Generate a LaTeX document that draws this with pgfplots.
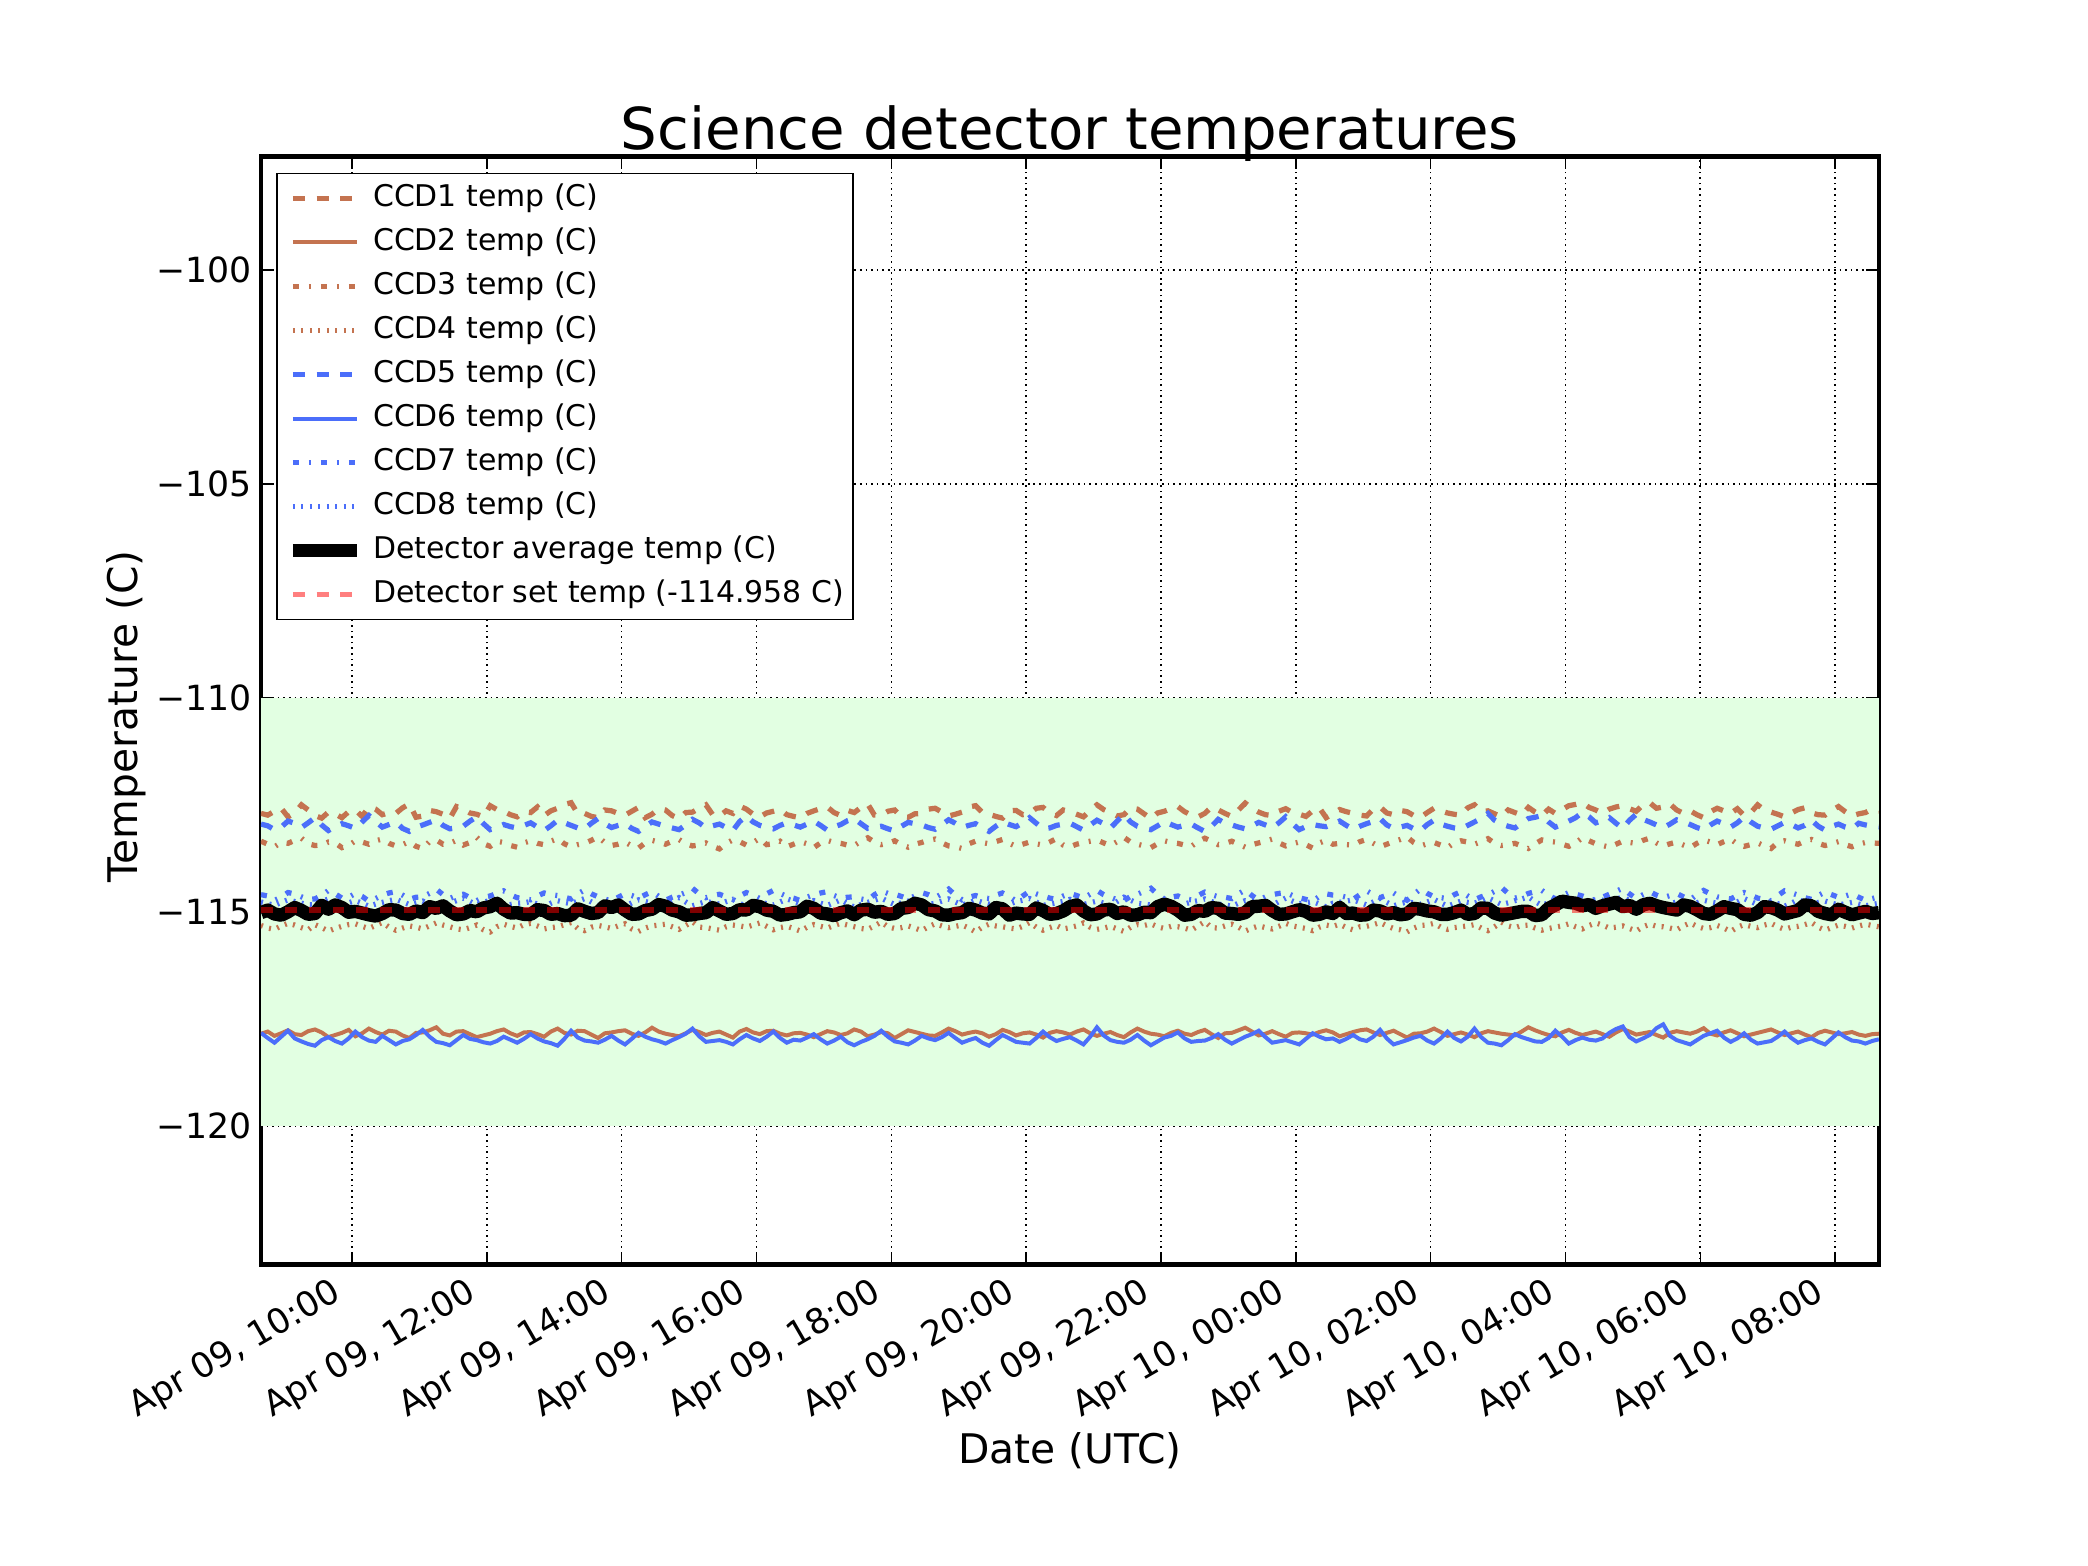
\documentclass[border=0pt]{standalone}
\usepackage{fontspec}
\setmainfont{DejaVu Sans}
\usepackage{pgfplots}
\usepackage{pgfplotstable}
\pgfplotsset{compat=1.18}
\definecolor{ccdbrown}{RGB}{196,115,80}
\definecolor{ccdblue}{RGB}{75,110,250}
\definecolor{bandgreen}{RGB}{226,255,226}
\pgfplotstableread{
x c1 c2 c3 c4 c5 c6 c7 c8 av
8.65 -112.70 -117.85 -113.35 -115.32 -112.95 -117.83 -114.60 -114.77 -115.02
8.75 -112.74 -117.80 -113.42 -115.38 -112.99 -117.95 -114.63 -114.81 -114.96
8.85 -112.65 -117.90 -113.48 -115.41 -113.08 -118.06 -114.73 -114.85 -115.05
8.95 -112.58 -117.84 -113.38 -115.33 -113.02 -117.92 -114.66 -114.78 -115.08
9.05 -112.78 -117.77 -113.40 -115.27 -112.88 -117.78 -114.55 -114.72 -115.00
9.15 -112.69 -117.86 -113.33 -115.31 -112.93 -117.96 -114.58 -114.76 -114.90
9.25 -112.50 -117.88 -113.28 -115.37 -113.03 -118.03 -114.65 -114.80 -114.97
9.35 -112.62 -117.79 -113.41 -115.42 -112.92 -118.09 -114.71 -114.83 -115.06
9.45 -112.75 -117.75 -113.45 -115.30 -112.80 -118.13 -114.70 -114.84 -115.04
9.55 -112.81 -117.82 -113.44 -115.37 -112.97 -118.00 -114.62 -114.76 -114.85
9.65 -112.67 -117.93 -113.37 -115.45 -113.10 -117.93 -114.50 -114.70 -114.94
9.75 -112.71 -117.88 -113.39 -115.39 -113.01 -118.02 -114.58 -114.77 -114.84
9.85 -112.80 -117.83 -113.50 -115.34 -112.94 -118.08 -114.68 -114.82 -114.90
9.95 -112.66 -117.76 -113.45 -115.30 -112.99 -117.96 -114.66 -114.79 -115.01
10.05 -112.62 -117.91 -113.34 -115.28 -113.05 -117.80 -114.57 -114.74 -114.99
10.15 -112.77 -117.84 -113.37 -115.34 -112.90 -117.93 -114.64 -114.80 -115.03
10.25 -112.55 -117.73 -113.42 -115.39 -112.75 -118.01 -114.75 -114.87 -115.07
10.35 -112.60 -117.81 -113.34 -115.32 -112.89 -118.04 -114.69 -114.82 -115.10
10.45 -112.73 -117.87 -113.30 -115.25 -113.02 -117.90 -114.61 -114.78 -115.04
10.55 -112.68 -117.78 -113.40 -115.36 -112.96 -118.00 -114.56 -114.74 -114.95
10.65 -112.70 -117.80 -113.46 -115.43 -112.90 -118.10 -114.53 -114.71 -114.96
10.75 -112.57 -117.89 -113.43 -115.38 -113.05 -118.02 -114.61 -114.77 -115.04
10.85 -112.48 -117.95 -113.36 -115.33 -113.12 -117.98 -114.71 -114.83 -115.06
10.95 -112.79 -117.83 -113.47 -115.36 -113.02 -117.88 -114.66 -114.79 -114.98
11.05 -112.76 -117.82 -113.52 -115.40 -112.97 -117.76 -114.65 -114.75 -115.02
11.15 -112.63 -117.77 -113.36 -115.33 -112.91 -117.92 -114.57 -114.82 -114.88
11.25 -112.66 -117.70 -113.32 -115.26 -112.85 -118.04 -114.47 -114.88 -114.92
11.35 -112.72 -117.85 -113.42 -115.31 -112.98 -118.07 -114.60 -114.83 -114.86
11.45 -112.82 -117.89 -113.40 -115.35 -113.06 -118.12 -114.69 -114.79 -114.98
11.55 -112.54 -117.80 -113.33 -115.40 -113.04 -118.00 -114.62 -114.74 -115.07
11.65 -112.60 -117.79 -113.44 -115.42 -113.00 -117.88 -114.59 -114.68 -115.05
11.75 -112.69 -117.86 -113.38 -115.37 -112.88 -117.97 -114.67 -114.76 -114.97
11.85 -112.72 -117.93 -113.26 -115.31 -112.78 -118.00 -114.74 -114.84 -115.00
11.95 -112.78 -117.89 -113.41 -115.42 -112.94 -118.05 -114.66 -114.78 -114.91
12.05 -112.52 -117.85 -113.47 -115.47 -113.08 -118.08 -114.63 -114.73 -114.88
12.15 -112.61 -117.79 -113.35 -115.35 -113.03 -118.02 -114.57 -114.80 -114.80
12.25 -112.65 -117.75 -113.38 -115.29 -112.96 -117.92 -114.51 -114.86 -114.94
12.35 -112.73 -117.84 -113.45 -115.34 -113.01 -117.99 -114.60 -114.83 -115.03
12.45 -112.78 -117.90 -113.49 -115.38 -113.04 -118.06 -114.67 -114.80 -115.02
12.55 -112.66 -117.82 -113.39 -115.30 -112.98 -117.97 -114.69 -114.79 -115.06
12.65 -112.68 -117.81 -113.34 -115.27 -112.92 -117.86 -114.72 -114.76 -115.06
12.75 -112.55 -117.86 -113.40 -115.33 -113.02 -117.96 -114.63 -114.82 -114.95
12.85 -112.75 -117.92 -113.43 -115.40 -113.10 -118.03 -114.56 -114.89 -114.97
12.95 -112.64 -117.80 -113.35 -115.37 -112.99 -118.07 -114.60 -114.80 -115.06
13.05 -112.58 -117.73 -113.29 -115.35 -112.86 -118.13 -114.62 -114.74 -115.04
13.15 -112.49 -117.83 -113.41 -115.30 -112.92 -117.97 -114.66 -114.78 -115.09
13.25 -112.45 -117.87 -113.48 -115.25 -112.98 -117.78 -114.70 -114.81 -115.08
13.35 -112.71 -117.78 -113.43 -115.39 -113.04 -117.94 -114.58 -114.75 -114.93
13.45 -112.70 -117.79 -113.40 -115.44 -113.06 -118.01 -114.49 -114.69 -114.99
13.55 -112.77 -117.87 -113.33 -115.36 -112.93 -118.03 -114.58 -114.77 -115.04
13.65 -112.80 -117.95 -113.25 -115.32 -112.82 -118.06 -114.65 -114.85 -115.02
13.75 -112.62 -117.84 -113.38 -115.35 -112.94 -117.99 -114.70 -114.81 -114.86
13.85 -112.64 -117.82 -113.45 -115.39 -113.03 -117.90 -114.75 -114.78 -114.90
13.95 -112.70 -117.79 -113.42 -115.33 -112.98 -118.01 -114.66 -114.82 -114.84
14.05 -112.74 -117.77 -113.37 -115.28 -112.94 -118.10 -114.58 -114.87 -114.96
14.15 -112.65 -117.85 -113.46 -115.40 -113.05 -117.97 -114.62 -114.79 -115.06
14.25 -112.56 -117.90 -113.51 -115.46 -113.12 -117.83 -114.68 -114.72 -115.05
14.35 -112.80 -117.82 -113.39 -115.38 -113.00 -117.92 -114.60 -114.76 -114.97
14.45 -112.72 -117.71 -113.33 -115.33 -112.90 -117.98 -114.53 -114.80 -114.94
14.55 -112.59 -117.80 -113.37 -115.31 -112.95 -118.02 -114.64 -114.81 -114.83
14.65 -112.62 -117.85 -113.42 -115.29 -113.00 -118.08 -114.73 -114.83 -114.87
14.75 -112.75 -117.88 -113.35 -115.35 -113.04 -118.00 -114.66 -114.75 -114.96
14.85 -112.82 -117.91 -113.31 -115.41 -113.08 -117.93 -114.61 -114.67 -115.00
14.95 -112.68 -117.84 -113.41 -115.32 -112.97 -117.85 -114.55 -114.77 -115.08
15.05 -112.67 -117.76 -113.46 -115.23 -112.84 -117.73 -114.45 -114.86 -115.07
15.15 -112.58 -117.81 -113.44 -115.36 -112.92 -117.91 -114.58 -114.81 -115.04
15.25 -112.50 -117.88 -113.39 -115.37 -113.04 -118.04 -114.67 -114.76 -115.02
15.35 -112.73 -117.83 -113.47 -115.40 -112.99 -118.02 -114.62 -114.79 -114.90
15.45 -112.76 -117.80 -113.53 -115.43 -112.95 -118.00 -114.59 -114.82 -114.98
15.55 -112.64 -117.87 -113.40 -115.35 -113.03 -118.04 -114.65 -114.76 -115.06
15.65 -112.70 -117.94 -113.32 -115.31 -113.10 -118.10 -114.71 -114.71 -115.04
15.75 -112.53 -117.80 -113.36 -115.33 -112.89 -117.98 -114.63 -114.80 -114.95
15.85 -112.60 -117.74 -113.44 -115.36 -112.76 -117.88 -114.55 -114.88 -114.96
15.95 -112.72 -117.82 -113.38 -115.31 -112.90 -117.96 -114.61 -114.82 -114.85
16.05 -112.78 -117.86 -113.28 -115.26 -112.98 -118.02 -114.69 -114.77 -114.88
16.15 -112.69 -117.79 -113.43 -115.34 -113.03 -117.92 -114.58 -114.81 -114.96
16.25 -112.65 -117.78 -113.41 -115.42 -113.06 -117.80 -114.50 -114.84 -114.99
16.35 -112.61 -117.85 -113.35 -115.37 -112.98 -117.95 -114.57 -114.77 -115.08
16.45 -112.73 -117.89 -113.48 -115.34 -112.92 -118.06 -114.64 -114.70 -115.06
16.55 -112.77 -117.84 -113.42 -115.39 -112.97 -117.99 -114.68 -114.75 -115.02
16.65 -112.80 -117.83 -113.36 -115.45 -113.02 -118.01 -114.74 -114.81 -115.00
16.75 -112.70 -117.87 -113.41 -115.36 -112.95 -117.94 -114.66 -114.78 -114.87
16.85 -112.64 -117.93 -113.50 -115.30 -112.88 -117.86 -114.60 -114.74 -114.92
16.95 -112.59 -117.86 -113.39 -115.34 -112.98 -117.98 -114.56 -114.80 -115.03
17.05 -112.55 -117.79 -113.33 -115.38 -113.09 -118.08 -114.53 -114.85 -115.05
17.15 -112.68 -117.82 -113.38 -115.32 -113.01 -118.01 -114.62 -114.79 -115.09
17.25 -112.75 -117.88 -113.40 -115.27 -112.96 -117.92 -114.68 -114.72 -115.02
17.35 -112.63 -117.84 -113.44 -115.31 -112.87 -118.05 -114.66 -114.81 -114.98
17.45 -112.68 -117.75 -113.45 -115.35 -112.82 -118.12 -114.65 -114.89 -115.07
17.55 -112.56 -117.80 -113.35 -115.39 -112.94 -118.04 -114.70 -114.83 -114.96
17.65 -112.48 -117.91 -113.27 -115.41 -113.05 -117.98 -114.73 -114.78 -114.94
17.75 -112.74 -117.87 -113.37 -115.33 -113.03 -117.90 -114.60 -114.73 -115.01
17.85 -112.74 -117.81 -113.43 -115.24 -113.00 -117.78 -114.51 -114.68 -114.99
17.95 -112.65 -117.84 -113.40 -115.35 -113.06 -117.92 -114.57 -114.76 -115.06
18.05 -112.62 -117.95 -113.34 -115.39 -113.11 -118.03 -114.59 -114.83 -115.04
18.15 -112.78 -117.86 -113.43 -115.37 -113.00 -118.06 -114.64 -114.79 -114.92
18.25 -112.79 -117.77 -113.49 -115.33 -112.91 -118.10 -114.70 -114.75 -114.90
18.35 -112.71 -117.81 -113.42 -115.38 -112.94 -118.01 -114.63 -114.81 -114.80
18.45 -112.70 -117.85 -113.38 -115.44 -112.97 -117.90 -114.55 -114.87 -114.84
18.55 -112.60 -117.89 -113.33 -115.35 -113.03 -117.96 -114.60 -114.83 -114.95
18.65 -112.58 -117.90 -113.30 -115.28 -113.07 -118.00 -114.67 -114.80 -114.98
18.75 -112.67 -117.82 -113.39 -115.33 -112.96 -117.93 -114.58 -114.75 -115.07
18.85 -112.76 -117.73 -113.46 -115.37 -112.85 -117.83 -114.47 -114.70 -115.08
18.95 -112.72 -117.79 -113.48 -115.34 -112.93 -117.95 -114.61 -114.77 -115.04
19.05 -112.67 -117.87 -113.52 -115.31 -113.03 -118.06 -114.72 -114.84 -115.02
19.15 -112.55 -117.83 -113.41 -115.38 -112.98 -118.00 -114.66 -114.79 -114.92
19.25 -112.52 -117.80 -113.35 -115.47 -112.94 -117.95 -114.62 -114.73 -114.96
19.35 -112.68 -117.84 -113.38 -115.36 -113.04 -118.06 -114.67 -114.78 -115.03
19.45 -112.72 -117.92 -113.41 -115.29 -113.12 -118.13 -114.69 -114.82 -115.05
19.55 -112.77 -117.86 -113.36 -115.33 -113.00 -118.00 -114.61 -114.85 -114.90
19.65 -112.81 -117.76 -113.31 -115.35 -112.90 -117.88 -114.56 -114.88 -114.93
19.75 -112.64 -117.81 -113.40 -115.38 -112.96 -117.96 -114.64 -114.82 -115.08
19.85 -112.63 -117.89 -113.47 -115.40 -113.01 -118.04 -114.75 -114.76 -115.03
19.95 -112.73 -117.84 -113.42 -115.34 -112.92 -118.06 -114.63 -114.73 -115.05
20.05 -112.70 -117.82 -113.37 -115.25 -112.80 -118.08 -114.52 -114.69 -115.06
20.15 -112.58 -117.87 -113.41 -115.36 -112.93 -117.95 -114.58 -114.77 -114.91
20.25 -112.56 -117.94 -113.44 -115.43 -113.06 -117.80 -114.63 -114.85 -114.97
20.35 -112.69 -117.83 -113.37 -115.37 -113.04 -117.93 -114.68 -114.82 -115.06
20.45 -112.75 -117.79 -113.29 -115.32 -112.98 -118.02 -114.71 -114.79 -115.04
20.55 -112.62 -117.82 -113.44 -115.40 -112.95 -117.97 -114.63 -114.76 -114.98
20.65 -112.66 -117.87 -113.48 -115.37 -112.93 -117.93 -114.57 -114.71 -114.88
20.75 -112.72 -117.80 -113.42 -115.33 -113.01 -118.01 -114.62 -114.77 -114.84
20.85 -112.78 -117.75 -113.38 -115.26 -113.09 -118.10 -114.68 -114.83 -114.98
20.95 -112.63 -117.84 -113.35 -115.36 -112.97 -117.92 -114.59 -114.79 -115.07
21.05 -112.50 -117.90 -113.32 -115.41 -112.86 -117.70 -114.50 -114.75 -115.05
21.15 -112.61 -117.85 -113.39 -115.38 -112.94 -117.89 -114.60 -114.80 -114.96
21.25 -112.68 -117.81 -113.45 -115.34 -113.04 -118.00 -114.66 -114.86 -114.94
21.35 -112.76 -117.88 -113.36 -115.40 -112.88 -118.04 -114.72 -114.76 -115.04
21.45 -112.73 -117.93 -113.26 -115.46 -112.72 -118.06 -114.74 -114.66 -115.00
21.55 -112.57 -117.82 -113.37 -115.36 -112.90 -117.99 -114.64 -114.73 -115.08
21.65 -112.60 -117.73 -113.42 -115.30 -113.00 -117.88 -114.59 -114.80 -115.07
21.75 -112.71 -117.80 -113.46 -115.32 -113.05 -118.01 -114.52 -114.82 -115.01
21.85 -112.82 -117.85 -113.50 -115.28 -113.08 -118.12 -114.45 -114.84 -115.02
21.95 -112.69 -117.87 -113.41 -115.35 -112.99 -118.03 -114.59 -114.78 -114.88
22.05 -112.65 -117.91 -113.34 -115.39 -112.89 -117.94 -114.70 -114.72 -114.82
22.15 -112.59 -117.83 -113.38 -115.34 -112.96 -117.90 -114.66 -114.80 -114.87
22.25 -112.54 -117.78 -113.40 -115.35 -113.02 -117.82 -114.63 -114.88 -114.96
22.35 -112.66 -117.85 -113.44 -115.38 -112.98 -117.96 -114.70 -114.82 -115.08
22.45 -112.74 -117.88 -113.47 -115.43 -112.95 -118.04 -114.72 -114.77 -115.06
22.55 -112.78 -117.81 -113.36 -115.33 -113.04 -118.02 -114.62 -114.74 -114.97
22.65 -112.70 -117.76 -113.28 -115.23 -113.12 -118.01 -114.54 -114.70 -114.99
22.75 -112.55 -117.86 -113.35 -115.37 -113.00 -117.95 -114.60 -114.76 -114.90
22.85 -112.62 -117.95 -113.43 -115.38 -112.84 -117.86 -114.65 -114.82 -114.92
22.95 -112.70 -117.84 -113.40 -115.33 -112.93 -117.99 -114.66 -114.84 -115.03
23.05 -112.77 -117.83 -113.35 -115.29 -112.97 -118.08 -114.69 -114.87 -115.04
23.15 -112.62 -117.77 -113.42 -115.36 -113.02 -118.00 -114.58 -114.80 -115.06
23.25 -112.46 -117.71 -113.49 -115.45 -113.06 -117.92 -114.49 -114.74 -115.02
23.35 -112.58 -117.80 -113.43 -115.38 -112.99 -117.86 -114.62 -114.76 -114.88
23.45 -112.67 -117.89 -113.39 -115.33 -112.91 -117.78 -114.73 -114.79 -114.87
23.55 -112.73 -117.85 -113.35 -115.37 -112.97 -117.93 -114.65 -114.82 -114.85
23.65 -112.75 -117.79 -113.30 -115.40 -113.03 -118.06 -114.60 -114.85 -114.97
23.75 -112.65 -117.86 -113.39 -115.34 -112.92 -118.03 -114.57 -114.76 -115.06
23.85 -112.59 -117.92 -113.46 -115.27 -112.78 -118.00 -114.55 -114.68 -115.05
23.95 -112.68 -117.83 -113.41 -115.33 -112.94 -118.05 -114.62 -114.75 -115.00
24.05 -112.72 -117.82 -113.37 -115.36 -113.08 -118.10 -114.67 -114.81 -114.95
24.15 -112.77 -117.84 -113.43 -115.39 -113.01 -117.97 -114.71 -114.79 -114.99
24.25 -112.64 -117.87 -113.51 -115.44 -112.96 -117.84 -114.75 -114.76 -115.08
24.35 -112.57 -117.81 -113.39 -115.36 -112.99 -117.92 -114.64 -114.82 -115.06
24.45 -112.80 -117.77 -113.33 -115.31 -113.01 -117.98 -114.58 -114.89 -115.00
24.55 -112.71 -117.82 -113.42 -115.34 -112.95 -117.96 -114.61 -114.80 -115.04
24.65 -112.61 -117.91 -113.40 -115.29 -112.88 -118.04 -114.62 -114.78 -114.90
24.75 -112.66 -117.86 -113.43 -115.37 -112.98 -117.97 -114.66 -114.75 -115.04
24.85 -112.70 -117.81 -113.44 -115.42 -113.07 -117.88 -114.71 -114.72 -115.03
24.95 -112.74 -117.77 -113.36 -115.35 -113.00 -117.98 -114.60 -114.78 -115.08
25.05 -112.76 -117.75 -113.31 -115.34 -112.94 -118.02 -114.51 -114.84 -115.07
25.15 -112.60 -117.82 -113.40 -115.30 -112.89 -117.92 -114.60 -114.77 -114.96
25.25 -112.55 -117.88 -113.48 -115.25 -112.82 -117.76 -114.67 -114.69 -114.98
25.35 -112.69 -117.83 -113.42 -115.33 -112.97 -117.96 -114.61 -114.78 -115.05
25.45 -112.73 -117.78 -113.36 -115.39 -113.05 -118.10 -114.56 -114.86 -115.02
25.55 -112.63 -117.86 -113.31 -115.42 -113.02 -118.05 -114.66 -114.81 -115.07
25.65 -112.66 -117.94 -113.25 -115.47 -112.98 -118.00 -114.73 -114.77 -115.05
25.75 -112.75 -117.85 -113.38 -115.38 -113.06 -117.94 -114.59 -114.79 -114.92
25.85 -112.79 -117.84 -113.46 -115.32 -113.10 -117.90 -114.47 -114.82 -114.94
25.95 -112.68 -117.80 -113.41 -115.31 -112.96 -118.01 -114.57 -114.77 -114.98
26.05 -112.58 -117.73 -113.38 -115.27 -112.86 -118.08 -114.65 -114.71 -115.00
26.15 -112.64 -117.81 -113.44 -115.36 -112.95 -117.96 -114.67 -114.79 -115.06
26.25 -112.69 -117.90 -113.50 -115.41 -113.00 -117.80 -114.69 -114.87 -115.06
26.35 -112.72 -117.86 -113.39 -115.37 -113.04 -117.95 -114.60 -114.81 -115.02
26.45 -112.74 -117.82 -113.34 -115.35 -113.06 -118.03 -114.53 -114.75 -114.96
26.55 -112.57 -117.87 -113.37 -115.33 -112.98 -117.92 -114.63 -114.78 -115.06
26.65 -112.50 -117.93 -113.42 -115.30 -112.90 -117.73 -114.72 -114.80 -115.04
26.75 -112.66 -117.84 -113.36 -115.38 -112.82 -117.93 -114.65 -114.74 -114.91
26.85 -112.64 -117.79 -113.29 -115.44 -112.70 -118.06 -114.60 -114.67 -114.92
26.95 -112.71 -117.82 -113.40 -115.35 -112.86 -118.08 -114.52 -114.75 -115.03
27.05 -112.78 -117.85 -113.45 -115.24 -112.95 -118.12 -114.43 -114.83 -115.08
27.15 -112.62 -117.87 -113.43 -115.33 -113.00 -118.00 -114.57 -114.79 -115.05
27.25 -112.68 -117.89 -113.40 -115.37 -113.04 -117.86 -114.68 -114.74 -115.02
27.35 -112.74 -117.80 -113.46 -115.32 -112.93 -117.93 -114.64 -114.70 -114.99
27.45 -112.56 -117.70 -113.52 -115.31 -112.82 -117.98 -114.57 -114.65 -114.99
27.55 -112.67 -117.77 -113.41 -115.38 -112.79 -118.03 -114.53 -114.76 -115.09
27.65 -112.75 -117.83 -113.32 -115.43 -112.75 -118.04 -114.50 -114.85 -115.07
27.75 -112.60 -117.88 -113.35 -115.39 -112.90 -117.95 -114.61 -114.79 -114.92
27.85 -112.70 -117.91 -113.37 -115.36 -113.02 -117.78 -114.70 -114.72 -114.84
27.95 -112.61 -117.82 -113.42 -115.33 -112.96 -117.92 -114.62 -114.76 -114.75
28.05 -112.52 -117.76 -113.47 -115.28 -112.88 -118.08 -114.55 -114.79 -114.78
28.15 -112.49 -117.83 -113.39 -115.35 -112.80 -118.00 -114.59 -114.82 -114.80
28.25 -112.45 -117.88 -113.27 -115.40 -112.68 -117.94 -114.63 -114.84 -114.86
28.35 -112.56 -117.84 -113.34 -115.32 -112.78 -117.99 -114.69 -114.77 -114.83
28.45 -112.62 -117.80 -113.41 -115.26 -112.92 -118.01 -114.74 -114.70 -114.92
28.55 -112.70 -117.86 -113.45 -115.31 -112.87 -117.96 -114.66 -114.73 -114.86
28.65 -112.60 -117.92 -113.49 -115.38 -112.80 -117.83 -114.59 -114.74 -114.82
28.75 -112.55 -117.82 -113.42 -115.36 -112.93 -117.74 -114.52 -114.70 -114.78
28.85 -112.52 -117.74 -113.35 -115.33 -113.05 -117.68 -114.45 -114.66 -114.88
28.95 -112.59 -117.80 -113.38 -115.39 -112.86 -117.93 -114.58 -114.74 -114.85
29.05 -112.65 -117.87 -113.40 -115.45 -112.72 -118.03 -114.69 -114.82 -114.94
29.15 -112.50 -117.84 -113.33 -115.35 -112.84 -117.96 -114.60 -114.76 -114.84
29.25 -112.45 -117.81 -113.28 -115.29 -112.90 -117.88 -114.53 -114.71 -114.80
29.35 -112.58 -117.88 -113.39 -115.34 -112.97 -117.72 -114.61 -114.78 -114.86
29.45 -112.55 -117.94 -113.46 -115.35 -113.03 -117.63 -114.67 -114.85 -114.90
29.55 -112.48 -117.83 -113.41 -115.38 -112.95 -117.90 -114.62 -114.81 -114.93
29.65 -112.62 -117.79 -113.37 -115.42 -112.85 -118.00 -114.57 -114.77 -114.96
29.75 -112.70 -117.82 -113.44 -115.33 -112.89 -118.05 -114.65 -114.82 -114.84
29.85 -112.64 -117.85 -113.50 -115.26 -112.96 -118.10 -114.72 -114.88 -114.87
29.95 -112.73 -117.80 -113.40 -115.34 -113.03 -118.00 -114.60 -114.79 -114.95
30.05 -112.80 -117.72 -113.32 -115.39 -113.08 -117.90 -114.50 -114.73 -115.04
30.15 -112.66 -117.85 -113.37 -115.37 -112.97 -117.84 -114.58 -114.77 -115.06
30.25 -112.58 -117.89 -113.43 -115.32 -112.88 -117.78 -114.65 -114.80 -114.98
30.35 -112.64 -117.82 -113.36 -115.38 -112.94 -117.94 -114.68 -114.83 -114.88
30.45 -112.70 -117.77 -113.30 -115.46 -113.02 -118.04 -114.70 -114.86 -114.92
30.55 -112.59 -117.84 -113.42 -115.36 -112.92 -117.96 -114.62 -114.77 -114.95
30.65 -112.75 -117.91 -113.47 -115.30 -112.78 -117.84 -114.55 -114.69 -115.06
30.75 -112.68 -117.87 -113.43 -115.34 -112.90 -117.99 -114.61 -114.76 -115.08
30.85 -112.50 -117.83 -113.39 -115.37 -113.00 -118.08 -114.68 -114.83 -115.02
30.95 -112.62 -117.79 -113.46 -115.31 -113.04 -118.05 -114.71 -114.79 -114.88
31.05 -112.67 -117.75 -113.52 -115.27 -113.07 -118.02 -114.74 -114.76 -114.90
31.15 -112.72 -117.82 -113.38 -115.35 -112.99 -117.92 -114.62 -114.81 -114.96
31.25 -112.78 -117.88 -113.34 -115.41 -112.91 -117.80 -114.51 -114.87 -115.05
31.35 -112.69 -117.84 -113.39 -115.36 -112.96 -117.95 -114.56 -114.80 -115.01
31.45 -112.61 -117.80 -113.42 -115.34 -113.04 -118.06 -114.61 -114.72 -114.97
31.55 -112.57 -117.87 -113.35 -115.30 -112.98 -118.00 -114.67 -114.77 -114.84
31.65 -112.69 -117.93 -113.31 -115.25 -112.86 -117.96 -114.71 -114.81 -114.86
31.75 -112.73 -117.83 -113.40 -115.36 -113.00 -118.04 -114.62 -114.78 -114.99
31.85 -112.74 -117.78 -113.45 -115.43 -113.09 -118.10 -114.54 -114.75 -115.04
31.95 -112.63 -117.82 -113.41 -115.37 -113.00 -117.96 -114.60 -114.80 -115.07
32.05 -112.54 -117.86 -113.36 -115.31 -112.95 -117.82 -114.66 -114.84 -114.94
32.15 -112.66 -117.84 -113.43 -115.34 -113.02 -117.93 -114.63 -114.81 -115.01
32.25 -112.76 -117.81 -113.48 -115.38 -113.06 -118.01 -114.58 -114.78 -115.07
32.35 -112.71 -117.87 -113.42 -115.33 -112.93 -118.03 -114.66 -114.82 -115.03
32.45 -112.68 -117.90 -113.38 -115.29 -112.97 -118.08 -114.73 -114.86 -114.99
32.55 -112.60 -117.86 -113.39 -115.32 -113.00 -118.02 -114.69 -114.83 -115.04
32.65 -112.65 -117.85 -113.40 -115.35 -113.02 -117.98 -114.65 -114.80 -115.02
}\data
\begin{document}
\begin{tikzpicture}
\begin{axis}[
  at={(0pt,0pt)}, anchor=south west,
  width=448pt, height=306.8pt, scale only axis,
  xmin=8.65, xmax=32.65, ymin=-123.25, ymax=-97.35,
  xtick={10,12,14,16,18,20,22,24,26,28,30,32},
  xticklabels={{Apr 09, 10:00},{Apr 09, 12:00},{Apr 09, 14:00},{Apr 09, 16:00},{Apr 09, 18:00},{Apr 09, 20:00},{Apr 09, 22:00},{Apr 10, 00:00},{Apr 10, 02:00},{Apr 10, 04:00},{Apr 10, 06:00},{Apr 10, 08:00}},
  ytick={-120,-115,-110,-105,-100},
  yticklabels={−120,−115,−110,−105,−100},
  tick align=inside, major tick length=3.5pt,
  every tick/.style={black, line width=0.4pt},
  axis line style={black, line width=1.3pt},
  grid=major,
  major grid style={black, line width=0.45pt, dash pattern=on 0.45pt off 1.1pt},
  xticklabel style={font=\fontsize{9.6}{11}\selectfont, xshift=-6pt, yshift=-3pt, rotate=30, anchor=north east, inner sep=0pt},
  yticklabel style={font=\fontsize{9.6}{11}\selectfont, xshift=-2.4pt, anchor=east, inner sep=0pt},
  title={Science detector temperatures},
  every axis title/.style={at={(axis description cs:0.5,1)}, anchor=base, yshift=2pt, font=\fontsize{16}{19}\selectfont},
  xlabel={Date (UTC)},
  every axis x label/.style={at={(axis description cs:0.5,0)}, anchor=center, yshift=-51.6pt, font=\fontsize{11.3}{13}\selectfont},
  ylabel={Temperature (C)},
  every axis y label/.style={at={(axis description cs:-0.0833,0.495)}, rotate=90, anchor=center, font=\fontsize{11.3}{13}\selectfont},
  legend style={at={(axis description cs:0.0094,0.9857)}, anchor=north west,
    draw=black, line width=0.5pt, fill=white,
    font=\fontsize{8.28}{10}\selectfont,
    inner xsep=2.5pt, inner ysep=2.8pt, row sep=4.1pt,
    nodes={inner sep=0pt, text height=6.3pt, text depth=1.8pt},
    /tikz/every odd column/.append style={column sep=2.7pt}},
  legend cell align=left,
  legend image code/.code={\draw[#1] (0pt,0pt) -- (17.7pt,0pt);},
]
\addplot[draw=none, fill=bandgreen, forget plot] coordinates {(8.65,-120) (32.65,-120) (32.65,-110) (8.65,-110)} -- cycle;
\addplot[ccdbrown, line width=1.45pt, dash pattern=on 3.3pt off 3.3pt] table[x=x,y=c1]{\data};
\addlegendentry{CCD1 temp (C)}
\addplot[ccdbrown, line width=1.1pt] table[x=x,y=c2]{\data};
\addlegendentry{CCD2 temp (C)}
\addplot[ccdbrown, line width=1.45pt, dash pattern=on 1.66pt off 2.77pt on 0.55pt off 2.77pt] table[x=x,y=c3]{\data};
\addlegendentry{CCD3 temp (C)}
\addplot[ccdbrown, line width=1.45pt, dash pattern=on 0.55pt off 1.8pt] table[x=x,y=c4]{\data};
\addlegendentry{CCD4 temp (C)}
\addplot[ccdblue, line width=1.45pt, dash pattern=on 3.3pt off 3.3pt] table[x=x,y=c5]{\data};
\addlegendentry{CCD5 temp (C)}
\addplot[ccdblue, line width=1.1pt] table[x=x,y=c6]{\data};
\addlegendentry{CCD6 temp (C)}
\addplot[ccdblue, line width=1.45pt, dash pattern=on 1.66pt off 2.77pt on 0.55pt off 2.77pt] table[x=x,y=c7]{\data};
\addlegendentry{CCD7 temp (C)}
\addplot[ccdblue, line width=1.45pt, dash pattern=on 0.55pt off 1.8pt] table[x=x,y=c8]{\data};
\addlegendentry{CCD8 temp (C)}
\addplot[black, line width=3.7pt, line join=round] table[x=x,y=av]{\data};
\addlegendentry{Detector average temp (C)}
\addplot[red, opacity=0.5, line width=1.45pt, dash pattern=on 3.3pt off 3.3pt] coordinates {(8.65,-114.958) (32.65,-114.958)};
\addlegendentry{Detector set temp (-114.958 C)}
\end{axis}
\path[use as bounding box] (-72.27pt,-83.42pt) rectangle (505.89pt,350.2pt);
\end{tikzpicture}
\end{document}
